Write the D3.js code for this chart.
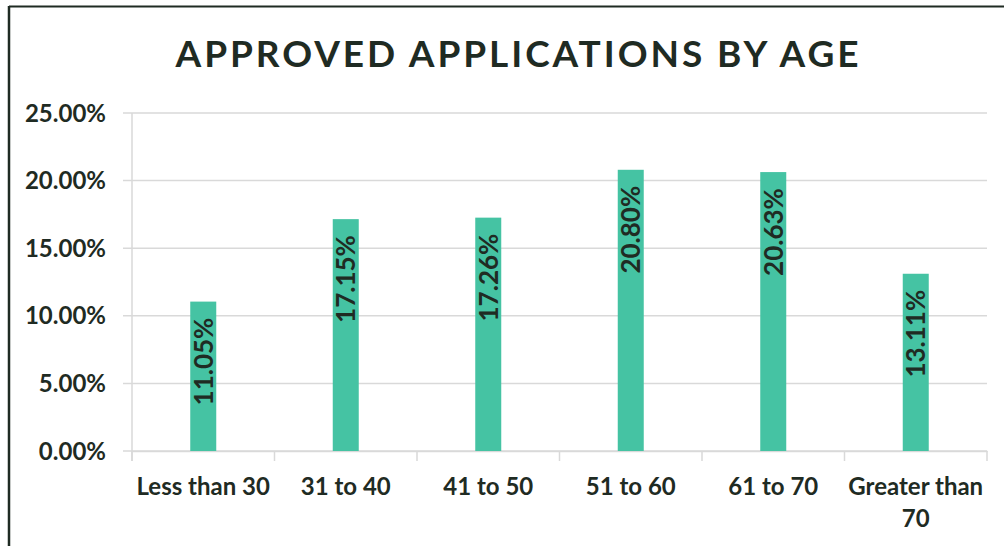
<!DOCTYPE html>
<html>
<head>
<meta charset="utf-8">
<script src="https://cdn.jsdelivr.net/npm/d3@7"></script>
<style>
  html, body { margin: 0; padding: 0; background: #fff; }
  svg { display: block; }
</style>
</head>
<body>
<script>
width  = 1004
height = 546

// chart data
var categories = ["Less than 30", "31 to 40", "41 to 50", "51 to 60", "61 to 70", "Greater than 70"];
var values     = [11.05, 17.15, 17.26, 20.80, 20.63, 13.11];
var yTicks     = [0, 5, 10, 15, 20, 25];
var title      = "APPROVED APPLICATIONS BY AGE";

var ink = "#1f2b23";
var font = "Lato, 'Open Sans', sans-serif";

var margin = {left: 132, right: 17, top: 113, bottom: 95};

const svg = d3.select('body').append('svg')
  .attr('width', width)
  .attr('height', height);

// frame (only top and left edges are visible in the crop)
svg.append("line").attr("x1", 9).attr("x2", width).attr("y1", 6.5).attr("y2", 6.5)
  .attr("stroke", ink).attr("stroke-width", 2);
svg.append("line").attr("x1", 9).attr("x2", 9).attr("y1", 6).attr("y2", height)
  .attr("stroke", ink).attr("stroke-width", 2.5);

svg.append("text")
  .attr("x", 517).attr("y", 67)
  .attr("text-anchor", "middle")
  .attr("font-family", font)
  .attr("font-weight", "bold")
  .attr("font-size", 37)
  .attr("fill", ink)
  .attr("textLength", 683)
  .attr("lengthAdjust", "spacing")
  .text(title);

var x = d3.scaleBand()
  .domain(categories)
  .range([margin.left, width - margin.right]);

var y = d3.scaleLinear()
  .domain([0, 25])
  .range([height - margin.bottom, margin.top]);

// gridlines
svg.append("g")
  .selectAll("line")
  .data(yTicks)
  .enter().append("line")
    .attr("x1", margin.left - 9)
    .attr("x2", width - margin.right)
    .attr("y1", d => y(d))
    .attr("y2", d => y(d))
    .attr("stroke", "#d9d9d9")
    .attr("stroke-width", 1.5);

// y labels
svg.append("g")
  .selectAll("text")
  .data(yTicks)
  .enter().append("text")
    .attr("x", 106)
    .attr("y", d => y(d) + 8.5)
    .attr("text-anchor", "end")
    .attr("font-family", font)
    .attr("font-weight", "bold")
    .attr("font-size", 24)
    .attr("fill", ink)
    .text(d => d3.format(".2f")(d) + "%");

// x axis
var xAxis = svg.append("g")
  .attr("transform", `translate(0,${y(0)})`)
  .call(d3.axisBottom(x).tickSize(0).tickFormat(""));
xAxis.select(".domain").attr("stroke", "#d9d9d9").attr("stroke-width", 1.5);

var bounds = categories.map(c => x(c)).concat([width - margin.right]);
xAxis.selectAll(".sep")
  .data(bounds)
  .enter().append("line")
    .attr("x1", d => d).attr("x2", d => d)
    .attr("y1", 0).attr("y2", 10)
    .attr("stroke", "#d9d9d9").attr("stroke-width", 1.5);

// left axis line
svg.append("line")
  .attr("x1", margin.left).attr("x2", margin.left)
  .attr("y1", y(25)).attr("y2", y(0) + 10)
  .attr("stroke", "#d9d9d9").attr("stroke-width", 1.5);

// category labels (wrap the long one)
var catG = svg.append("g")
  .selectAll("text")
  .data(categories)
  .enter().append("text")
    .attr("x", d => x(d) + x.bandwidth() / 2)
    .attr("y", 495)
    .attr("text-anchor", "middle")
    .attr("font-family", font)
    .attr("font-weight", "bold")
    .attr("font-size", 24)
    .attr("fill", ink);

catG.each(function(d) {
  var t = d3.select(this);
  var lines = d === "Greater than 70" ? ["Greater than", "70"] : [d];
  lines.forEach((l, i) => {
    t.append("tspan")
      .attr("x", x(d) + x.bandwidth() / 2)
      .attr("dy", i === 0 ? 0 : 32)
      .text(l);
  });
});

var barW = 26;

// bars
svg.append("g")
  .selectAll("rect")
  .data(values)
  .enter().append("rect")
    .attr("x", (d, i) => x(categories[i]) + x.bandwidth() / 2 - barW / 2)
    .attr("y", d => y(d))
    .attr("width", barW)
    .attr("height", d => y(0) - y(d))
    .attr("fill", "#45c3a3");

// value labels inside bar end, rotated
svg.append("g")
  .selectAll("text")
  .data(values)
  .enter().append("text")
    .attr("transform", (d, i) => `translate(${x(categories[i]) + x.bandwidth() / 2 + 9.5},${y(d) + 16}) rotate(-90)`)
    .attr("text-anchor", "end")
    .attr("font-family", font)
    .attr("font-weight", "bold")
    .attr("font-size", 26)
    .attr("fill", ink)
    .text(d => d.toFixed(2) + "%");
</script>
</body>
</html>
